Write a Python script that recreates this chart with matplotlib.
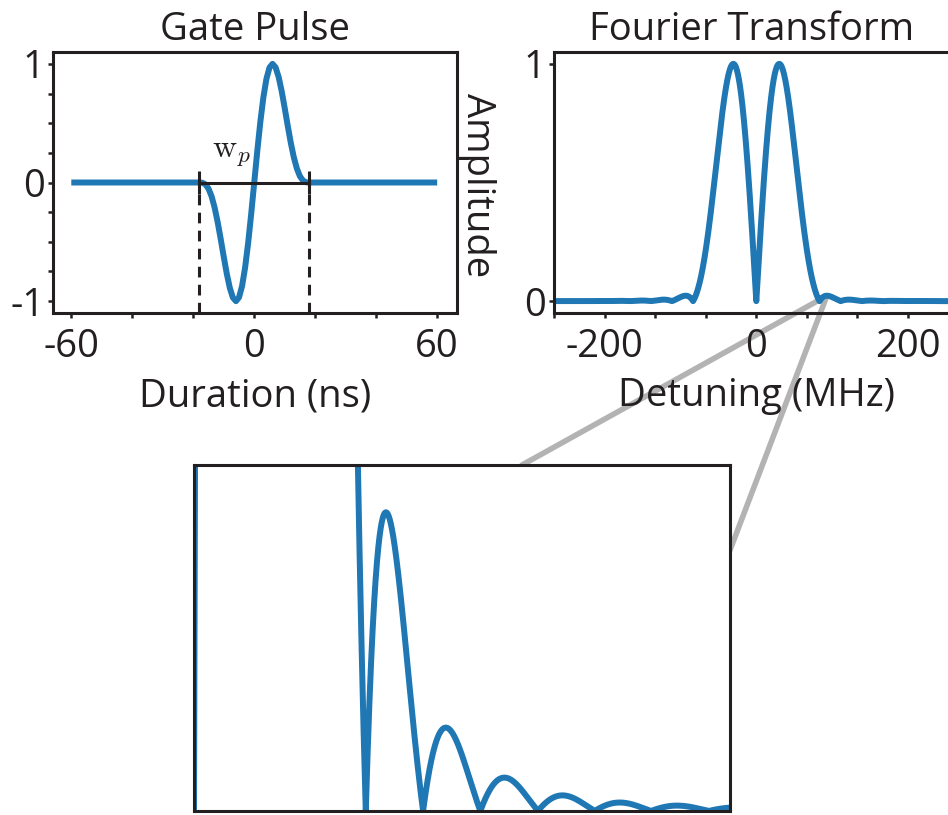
import numpy as np
import matplotlib
matplotlib.use("Agg")
import matplotlib.pyplot as plt
from matplotlib.patches import ConnectionPatch

plt.rcParams["font.family"] = ["Open Sans", "DejaVu Sans"]
plt.rcParams["mathtext.fontset"] = "cm"

INK = "#231f20"
BLUE = "#1f77b4"
GREY = "#b3b3b3"

# Gate pulse: sampled amplitude (normalised) on a 1 ns grid
pulse_time_ns = list(range(-18, 19))
pulse_amplitude = [
    0.0, -0.0020, -0.0159, -0.0516, -0.1158, -0.2106, -0.3333, -0.4760, -0.6265,
    -0.7698, -0.8897, -0.9708, -1.0, -0.9688, -0.8739, -0.7182, -0.5107, -0.2653,
    0.0,
    0.2653, 0.5107, 0.7182, 0.8739, 0.9688, 1.0, 0.9708, 0.8897, 0.7698,
    0.6265, 0.4760, 0.3333, 0.2106, 0.1158, 0.0516, 0.0159, 0.0020, 0.0,
]
window_start_ns, window_end_ns = -60, 60
pulse_edges_ns = [-18, 18]

duration_ticks = [-60, 0, 60]
duration_minor = [-40, -20, 20, 40]
amp_ticks = [-1, 0, 1]
amp_minor = [-0.75, -0.5, -0.25, 0.25, 0.5, 0.75]
detuning_ticks = [-200, 0, 200]
detuning_minor = [-800 / 3, -400 / 3, -200 / 3, 200 / 3, 400 / 3, 800 / 3]
ft_ticks = [0, 1]

# Spectrum of the sampled pulse (zero padded FFT, 1 ns sampling -> MHz)
n_fft = 2 ** 16
spectrum = np.abs(np.fft.fftshift(np.fft.fft(pulse_amplitude, n_fft)))
spectrum /= spectrum.max()
detuning_mhz = np.fft.fftshift(np.fft.fftfreq(n_fft, d=1.0)) * 1000.0

W, H = 948, 815
fig = plt.figure(figsize=(W / 100, H / 100), dpi=100)


def frac(x0, y0, x1, y1):
    return [x0 / W, 1 - y1 / H, (x1 - x0) / W, (y1 - y0) / H]


LW = 4.3
SPINE = 2.2
FS = 27.5


def style(ax):
    for s in ax.spines.values():
        s.set_linewidth(SPINE)
        s.set_color(INK)
    ax.tick_params(which="both", direction="out", length=3.5, width=1.8,
                   colors=INK, labelsize=FS, top=False, right=False)
    ax.tick_params(axis="x", pad=7)
    ax.tick_params(axis="y", pad=2.5)


# --- Gate pulse -----------------------------------------------------------
ax1 = fig.add_axes(frac(53, 52, 457, 313))
style(ax1)
ax1.plot([window_start_ns] + pulse_time_ns + [window_end_ns],
         [0.0] + pulse_amplitude + [0.0], color=BLUE, lw=LW,
         solid_capstyle="butt", solid_joinstyle="round", zorder=2)
ax1.set_xlim(-66, 66.5)
ax1.set_ylim(-1.1, 1.1)
ax1.set_xticks(duration_ticks)
ax1.set_xticks(duration_minor, minor=True)
ax1.set_xticklabels([str(v) for v in duration_ticks])
ax1.set_yticks(amp_ticks)
ax1.set_yticks(amp_minor, minor=True)
ax1.set_yticklabels([str(v) for v in amp_ticks])
ax1.set_title("Gate Pulse", fontsize=FS, color=INK, pad=9)
ax1.set_xlabel("Duration (ns)", fontsize=FS, color=INK, labelpad=8.5)

# pulse width marker
ax1.plot(pulse_edges_ns, [0, 0], color=INK, lw=2.2, zorder=3)
ax1.vlines(pulse_edges_ns, -0.1, 0.1, color=INK, lw=2.2, zorder=3)
ax1.vlines(pulse_edges_ns, -1.1, 0.0, color=INK, lw=2.2,
           linestyles=(0, (3.5, 2.4)), zorder=3)
ax1.text(-7.6, 0.26, r"$\mathrm{w}_p$", fontsize=24, color=INK,
         ha="center", va="center")

# --- Fourier transform ----------------------------------------------------
ax2 = fig.add_axes(frac(554, 52, 554 + 404.6, 313))
style(ax2)
ax2.patch.set_visible(False)
ax2.plot(detuning_mhz, spectrum, color=BLUE, lw=LW, zorder=2)
ax2.set_xlim(-800 / 3, 800 / 3)
ax2.set_ylim(-0.05, 1.05)
ax2.set_xticks(detuning_ticks)
ax2.set_xticks(detuning_minor, minor=True)
ax2.set_xticklabels([str(v) for v in detuning_ticks])
ax2.set_yticks(ft_ticks)
ax2.set_yticklabels([str(v) for v in ft_ticks])
ax2.set_title("Fourier Transform", fontsize=FS, color=INK, pad=9,
              x=(752 - 554) / 404.6)
ax2.set_xlabel("Detuning (MHz)", fontsize=FS, color=INK, labelpad=8.5)

fig.text(477 / W, 1 - 185 / H, "Amplitude", rotation=270, fontsize=FS,
         color=INK, ha="center", va="center")

# --- Zoom on the side lobes ----------------------------------------------
ax3 = fig.add_axes(frac(194, 465, 730, 811))
for s in ax3.spines.values():
    s.set_linewidth(SPINE)
    s.set_color(INK)
ax3.plot(detuning_mhz, spectrum, color=BLUE, lw=LW, zorder=2)
ax3.set_xlim(0, 260)
ax3.set_ylim(0, 0.0265)
ax3.set_xticks([])
ax3.set_yticks([])

# connectors from the first side lobe to the zoom panel
lobe = (detuning_mhz > 85) & (detuning_mhz < 110)
i_pk = np.argmax(np.where(lobe, spectrum, -1))
anchor = (detuning_mhz[i_pk], spectrum[i_pk])
for target in [(0.612, 1.0), (1.0, 0.754)]:
    con = ConnectionPatch(xyA=anchor, coordsA="data", axesA=ax2,
                          xyB=target, coordsB="axes fraction", axesB=ax3,
                          color=GREY, lw=4.0, zorder=-1)
    fig.add_artist(con)

fig.savefig("out.png", dpi=100)
